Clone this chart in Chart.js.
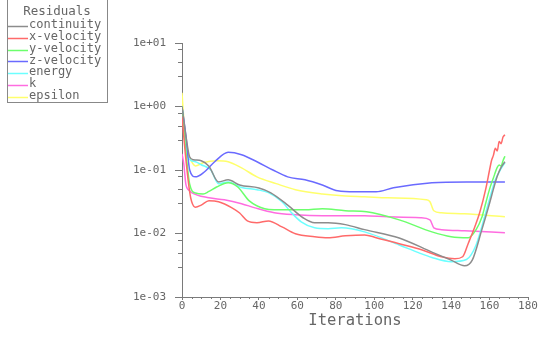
<!DOCTYPE html>
<html>
<head>
<meta charset="utf-8">
<script src="https://cdn.jsdelivr.net/npm/chart.js@4"></script>
<style>
  body { margin: 0; background: #fff; }
  canvas { display: block; }
</style>
</head>
<body>
<canvas id="myChart" width="540" height="345"></canvas>
<script>
// residual histories (iteration, value)
const names = ['continuity', 'x-velocity', 'y-velocity', 'z-velocity', 'energy', 'k', 'epsilon']
const colors = ['#8c8c8c', '#ff6a6a', '#6cff6c', '#6a6aff', '#6cffff', '#ff6ce0', '#ffff6c']

const itCont = [0, 2, 4, 6, 10, 14, 19, 24, 30, 40, 46, 55, 63, 69, 76, 85, 95, 113, 130, 140, 147, 151, 156, 160, 162, 164, 166, 168]
const resCont = [1.0, 0.35, 0.16, 0.145, 0.14, 0.115, 0.065, 0.07, 0.058, 0.052, 0.044, 0.028, 0.0177, 0.0148, 0.0148, 0.0138, 0.0115, 0.0085, 0.0051, 0.0038, 0.0031, 0.0038, 0.0115, 0.03, 0.05, 0.08, 0.11, 0.135]

const itXvel = [0, 2, 4, 5, 7, 10, 14, 19, 26, 30, 34, 39, 45, 52, 59, 69, 76, 85, 95, 101, 113, 125, 135, 142, 146, 149, 152, 155, 158, 160, 161, 162, 163, 164, 165, 166, 167, 168]
const resXvel = [0.7, 0.15, 0.045, 0.032, 0.026, 0.028, 0.0327, 0.0316, 0.0254, 0.021, 0.0158, 0.0148, 0.0158, 0.0127, 0.0099, 0.0089, 0.0086, 0.0092, 0.0095, 0.0086, 0.0069, 0.0055, 0.0043, 0.004, 0.0043, 0.0071, 0.012, 0.022, 0.05, 0.1, 0.14, 0.17, 0.22, 0.2, 0.28, 0.26, 0.33, 0.36]

const itYvel = [0, 2, 4, 7, 11, 14, 18, 24, 29, 35, 43, 48, 64, 73, 85, 96, 113, 130, 140, 149, 153, 156, 158, 160, 162, 164, 165, 166, 167, 168]
const resYvel = [1.0, 0.2, 0.06, 0.0435, 0.042, 0.046, 0.054, 0.063, 0.054, 0.0327, 0.0245, 0.0236, 0.0236, 0.0245, 0.0228, 0.022, 0.0164, 0.0106, 0.0089, 0.0086, 0.0115, 0.018, 0.03, 0.05, 0.075, 0.11, 0.12, 0.115, 0.14, 0.165]

const itZvel = [0, 2, 4, 7, 11, 17, 24, 31, 39, 47, 55, 64, 73, 81, 90, 101, 110, 130, 148, 168]
const resZvel = [1.0, 0.35, 0.1, 0.078, 0.09, 0.135, 0.19, 0.174, 0.135, 0.101, 0.078, 0.07, 0.058, 0.047, 0.0454, 0.0454, 0.0525, 0.063, 0.065, 0.065]

const itEnergy = [0, 2, 3, 7, 10, 15, 19, 24, 31, 39, 45, 52, 57, 62, 69, 76, 83, 95, 113, 123, 130, 140, 148, 153, 158, 160, 163, 166, 168]
const resEnergy = [1.0, 0.3, 0.16, 0.135, 0.121, 0.1, 0.061, 0.065, 0.053, 0.049, 0.044, 0.0316, 0.0212, 0.0153, 0.0123, 0.0119, 0.0123, 0.0106, 0.0066, 0.005, 0.0042, 0.0036, 0.0039, 0.0066, 0.0212, 0.035, 0.07, 0.105, 0.13]

const itK = [0, 1, 2, 4, 5, 14, 22, 31, 38, 48, 59, 73, 95, 107, 124, 129, 131, 135, 147, 168]
const resK = [0.18, 0.12, 0.06, 0.047, 0.044, 0.0365, 0.034, 0.0295, 0.0253, 0.0212, 0.0197, 0.019, 0.019, 0.0183, 0.0177, 0.0164, 0.0123, 0.0115, 0.011, 0.0103]

const itEps = [0, 1, 3, 5, 7, 11, 18, 24, 31, 39, 49, 59, 73, 85, 95, 107, 127, 129, 131, 135, 147, 168]
const resEps = [1.64, 0.6, 0.194, 0.135, 0.116, 0.13, 0.14, 0.135, 0.108, 0.078, 0.061, 0.049, 0.042, 0.039, 0.038, 0.0365, 0.034, 0.0316, 0.0228, 0.0212, 0.0204, 0.0183]

const yTicks = [1e-3, 1e-2, 1e-1, 1, 10]
const yMinor = [3, 5, 8]

const series = [
  [itCont, resCont], [itXvel, resXvel], [itYvel, resYvel], [itZvel, resZvel],
  [itEnergy, resEnergy], [itK, resK], [itEps, resEps]
]

const mono = "'DejaVu Sans Mono', monospace"
const txt = '#666'
const axisCol = '#7a7a7a'

function fmtExp(v) {
  let e = Math.round(Math.log10(v))
  return '1e' + (e < 0 ? '-' : '+') + String(Math.abs(e)).padStart(2, '0')
}

// minor ticks + residuals box
const extras = {
  id: 'extras',
  afterDraw(chart) {
    const c = chart.ctx
    const xs = chart.scales.x, ys = chart.scales.y
    const a = chart.chartArea
    c.save()
    c.strokeStyle = axisCol
    c.lineWidth = 1
    c.beginPath()
    for (let d = -3; d < 1; d++) {
      yMinor.forEach((m) => {
        let py = Math.round(ys.getPixelForValue(m * Math.pow(10, d))) + 0.5
        c.moveTo(a.left - 4, py)
        c.lineTo(a.left, py)
      })
    }
    for (let v = 5; v < 180; v += 5) {
      if (v % 20 === 0) continue
      let px = Math.round(xs.getPixelForValue(v)) + 0.5
      c.moveTo(px, a.bottom)
      c.lineTo(px, a.bottom + 2)
    }
    c.stroke()

    // legend box
    c.strokeStyle = '#888'
    c.strokeRect(7.5, -1.5, 100, 104)
    c.fillStyle = txt
    c.textBaseline = 'middle'
    c.textAlign = 'center'
    c.font = '12.5px ' + mono
    c.fillText('Residuals', 57, 12)
    c.textAlign = 'left'
    c.font = '12px ' + mono
    names.forEach((n, i) => {
      let y = 26 + i * 11.8
      c.strokeStyle = colors[i]
      c.lineWidth = 1.5
      c.beginPath()
      c.moveTo(8, Math.round(y) + 0.5)
      c.lineTo(28, Math.round(y) + 0.5)
      c.stroke()
      c.fillText(n, 29, y - 1)
    })
    c.restore()
  }
}

const ctx = document.getElementById('myChart').getContext('2d')
const myChart = new Chart(ctx, {
  type: 'line',
  data: {
    datasets: series.map((s, i) => ({
      label: names[i],
      data: s[0].map((x, j) => ({ x: x, y: s[1][j] })),
      borderColor: colors[i],
      backgroundColor: colors[i],
      borderWidth: 1.5,
      pointRadius: 0,
      cubicInterpolationMode: 'monotone',
      fill: false
    }))
  },
  options: {
    responsive: false,
    animation: false,
    layout: { padding: { top: 43, right: 12, left: 0, bottom: 0 } },
    plugins: {
      legend: { display: false },
      tooltip: { enabled: false }
    },
    scales: {
      x: {
        type: 'linear',
        min: 0,
        max: 180,
        afterFit: (s) => { s.height = 48 },
        grid: { drawOnChartArea: false, color: axisCol, tickLength: 3 },
        border: { color: axisCol },
        ticks: { stepSize: 20, maxRotation: 0, autoSkip: false, padding: 0, color: txt, font: { family: mono, size: 11 } },
        title: { display: true, text: 'Iterations', color: txt, font: { family: mono, size: 15.5 }, padding: { top: 0, bottom: 15 } }
      },
      y: {
        type: 'logarithmic',
        min: 1e-3,
        max: 10,
        afterFit: (s) => { s.width = 182 },
        afterBuildTicks: (s) => { s.ticks = yTicks.map((v) => ({ value: v })) },
        grid: { drawOnChartArea: false, color: axisCol, tickLength: 7 },
        border: { color: axisCol },
        ticks: { padding: 9, color: txt, font: { family: mono, size: 11 }, callback: (v) => fmtExp(v) }
      }
    }
  },
  plugins: [extras]
})
</script>
</body>
</html>
